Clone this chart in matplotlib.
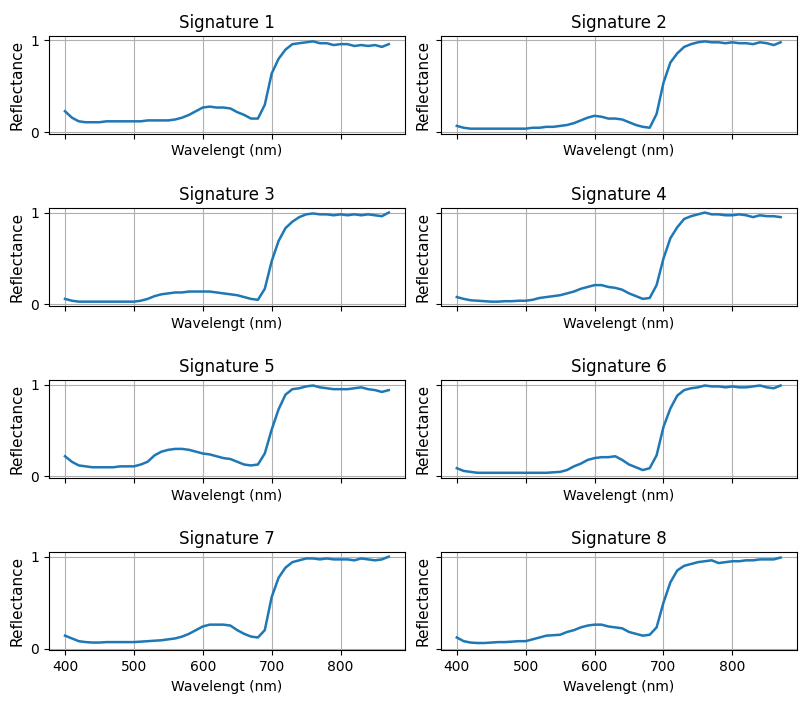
import matplotlib
matplotlib.use('Agg')
import matplotlib.pyplot as plt

# wavelength sampling (nm)
wavelength = [400, 410, 420, 430, 440, 450, 460, 470, 480, 490,
              500, 510, 520, 530, 540, 550, 560, 570, 580, 590,
              600, 610, 620, 630, 640, 650, 660, 670, 680, 690,
              700, 710, 720, 730, 740, 750, 760, 770, 780, 790,
              800, 810, 820, 830, 840, 850, 860, 870]

sig1 = [0.23, 0.16, 0.12, 0.11, 0.11, 0.11, 0.12, 0.12, 0.12, 0.12,
        0.12, 0.12, 0.13, 0.13, 0.13, 0.13, 0.14, 0.16, 0.19, 0.23,
        0.27, 0.28, 0.27, 0.27, 0.26, 0.22, 0.19, 0.15, 0.15, 0.30,
        0.64, 0.80, 0.90, 0.96, 0.97, 0.98, 0.99, 0.97, 0.97, 0.95,
        0.96, 0.96, 0.94, 0.95, 0.94, 0.95, 0.93, 0.96]
sig2 = [0.07, 0.05, 0.04, 0.04, 0.04, 0.04, 0.04, 0.04, 0.04, 0.04,
        0.04, 0.05, 0.05, 0.06, 0.06, 0.07, 0.08, 0.10, 0.13, 0.16,
        0.18, 0.17, 0.15, 0.15, 0.14, 0.11, 0.08, 0.06, 0.05, 0.20,
        0.54, 0.76, 0.86, 0.93, 0.96, 0.98, 0.99, 0.98, 0.98, 0.97,
        0.98, 0.97, 0.97, 0.96, 0.98, 0.97, 0.95, 0.98]
sig3 = [0.06, 0.04, 0.03, 0.03, 0.03, 0.03, 0.03, 0.03, 0.03, 0.03,
        0.03, 0.04, 0.06, 0.09, 0.11, 0.12, 0.13, 0.13, 0.14, 0.14,
        0.14, 0.14, 0.13, 0.12, 0.11, 0.10, 0.08, 0.06, 0.05, 0.17,
        0.47, 0.69, 0.83, 0.90, 0.95, 0.98, 0.99, 0.98, 0.98, 0.97,
        0.98, 0.97, 0.98, 0.97, 0.98, 0.97, 0.96, 1.00]
sig4 = [0.08, 0.06, 0.045, 0.04, 0.035, 0.03, 0.03, 0.035, 0.035, 0.04,
        0.04, 0.05, 0.07, 0.08, 0.09, 0.10, 0.12, 0.14, 0.17, 0.19,
        0.21, 0.21, 0.19, 0.18, 0.16, 0.12, 0.09, 0.06, 0.07, 0.21,
        0.50, 0.72, 0.84, 0.93, 0.96, 0.98, 1.00, 0.98, 0.98, 0.97,
        0.97, 0.98, 0.97, 0.95, 0.97, 0.96, 0.96, 0.95]
sig5 = [0.22, 0.16, 0.12, 0.11, 0.10, 0.10, 0.10, 0.10, 0.11, 0.11,
        0.11, 0.13, 0.16, 0.23, 0.27, 0.29, 0.30, 0.30, 0.29, 0.27,
        0.25, 0.24, 0.22, 0.20, 0.19, 0.16, 0.13, 0.12, 0.13, 0.25,
        0.51, 0.73, 0.89, 0.95, 0.96, 0.98, 0.99, 0.97, 0.96, 0.95,
        0.95, 0.95, 0.96, 0.97, 0.95, 0.94, 0.92, 0.94]
sig6 = [0.09, 0.06, 0.05, 0.04, 0.04, 0.04, 0.04, 0.04, 0.04, 0.04,
        0.04, 0.04, 0.04, 0.04, 0.045, 0.05, 0.07, 0.11, 0.14, 0.18,
        0.20, 0.21, 0.21, 0.22, 0.18, 0.13, 0.10, 0.07, 0.09, 0.23,
        0.54, 0.74, 0.88, 0.94, 0.96, 0.97, 0.99, 0.98, 0.98, 0.97,
        0.98, 0.97, 0.97, 0.98, 0.99, 0.97, 0.96, 0.99]
sig7 = [0.14, 0.11, 0.08, 0.07, 0.065, 0.065, 0.07, 0.07, 0.07, 0.07,
        0.07, 0.075, 0.08, 0.085, 0.09, 0.10, 0.11, 0.13, 0.16, 0.20,
        0.24, 0.26, 0.26, 0.26, 0.25, 0.20, 0.16, 0.13, 0.12, 0.20,
        0.56, 0.77, 0.88, 0.94, 0.96, 0.98, 0.98, 0.97, 0.98, 0.97,
        0.97, 0.97, 0.96, 0.98, 0.97, 0.96, 0.97, 1.00]
sig8 = [0.12, 0.08, 0.065, 0.06, 0.06, 0.065, 0.07, 0.07, 0.075, 0.08,
        0.08, 0.10, 0.12, 0.14, 0.145, 0.15, 0.18, 0.20, 0.23, 0.25,
        0.26, 0.26, 0.24, 0.23, 0.22, 0.18, 0.16, 0.14, 0.15, 0.23,
        0.50, 0.72, 0.85, 0.90, 0.92, 0.94, 0.95, 0.96, 0.93, 0.94,
        0.95, 0.95, 0.96, 0.96, 0.97, 0.97, 0.97, 0.99]

signatures = [sig1, sig2, sig3, sig4, sig5, sig6, sig7, sig8]

fig, axes = plt.subplots(4, 2, sharex=True, sharey=True, figsize=(8, 7.06), dpi=100)
plt.subplots_adjust(left=0.061, right=0.996, top=0.949, bottom=0.079,
                    wspace=0.1, hspace=0.755)

for i, ax in enumerate(axes.flat):
    ax.plot(wavelength, signatures[i], color='#1f77b4', linewidth=1.8)
    ax.set_title('Signature ' + str(i + 1), fontsize=12)
    ax.set_xlabel('Wavelengt (nm)')
    ax.set_ylabel('Reflectance', fontsize=11)
    ax.set_yticks([0, 1])
    ax.set_xticks([400, 500, 600, 700, 800])
    ax.grid(True)

plt.savefig('out.png', dpi=100)
